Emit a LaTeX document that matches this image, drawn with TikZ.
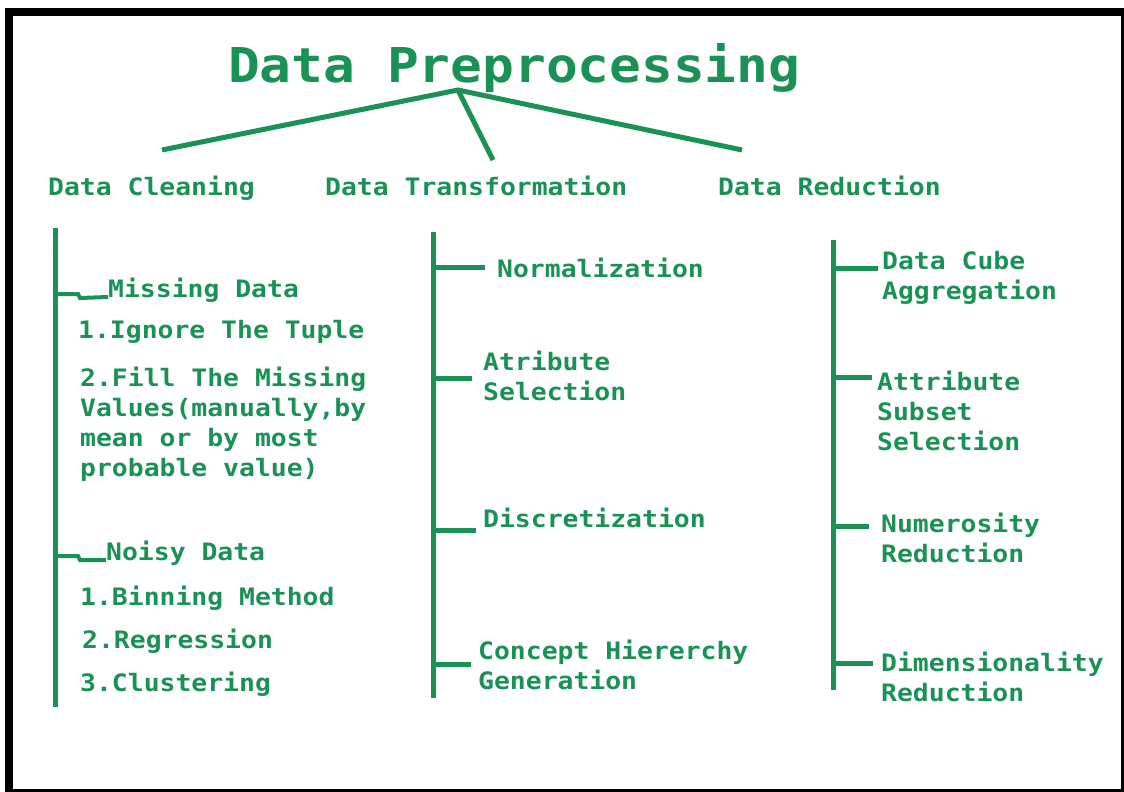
\documentclass[tikz,border=0pt]{standalone}
\usepackage{fontspec}
\newfontfamily\pixfont[FakeStretch=1.1]{DejaVu Sans Mono}
\newfontfamily\titlefont[FakeStretch=1.1]{DejaVu Sans Mono}
\definecolor{gr}{RGB}{26,145,85}
\begin{document}
\begin{tikzpicture}[x=1pt,y=-1pt,
  lbl/.style={anchor=base west, inner sep=0pt, text=gr, align=left,
    font=\pixfont\bfseries\fontsize{24}{30}\selectfont},
  lbll/.style={lbl},
  conn/.style={draw=gr, line width=5pt},
  tick/.style={draw=gr, line width=5pt}]
\useasboundingbox (0,0) rectangle (1124,792);
% frame
\fill[white] (0,0) rectangle (1124,792);
\fill[black] (5,8) rectangle (1124,792);
\fill[white] (13,16) rectangle (1121,789);
% title
\node[anchor=base west, inner sep=0pt, text=gr,
  font=\titlefont\bfseries\fontsize{48}{50}\selectfont] (title) at (228,82) {Data Preprocessing};
\coordinate (apex) at (458,90);
\coordinate (lend) at (162,150);
\coordinate (mend) at (493,160);
\coordinate (rend) at (742,150);
\draw[conn] (lend) -- (apex) -- (rend);
\draw[conn] (apex) -- (mend);
% headers
\node[lbl] (clean) at (48,195) {Data Cleaning};
\node[lbl] (trans) at (325,195) {Data Transformation};
\node[lbl] (red) at (718,195) {Data Reduction};
% left column
\coordinate (ltop) at (55,228);
\coordinate (lbot) at (55,707);
\draw[conn] (ltop) -- (lbot);
\node[lbl] (miss) at (108,297) {Missing Data};
\draw[tick, line width=4pt] (55,294) -- (78,294) -- (80,298) -- (miss.base west);
\node[lbl] (ign) at (78,338) {1.Ignore The Tuple};
\node[lbl] (fill) at (80,476) {2.Fill The Missing\\Values(manually,by\\mean or by most\\probable value)};
\node[lbl] (noisy) at (106,560) {Noisy Data};
\draw[tick, line width=4pt] (55,556) -- (78,556) -- (80,560) -- (noisy.base west);
\node[lbl] (bin) at (80,605) {1.Binning Method};
\node[lbl] (reg) at (82,648) {2.Regression};
\node[lbl] (clu) at (80,691) {3.Clustering};
% middle column
\coordinate (mtop) at (433,232);
\coordinate (mbot) at (433,698);
\draw[conn] (mtop) -- (mbot);
\node[lbll] (norm) at (497,277) {Normalization};
\coordinate (t1) at (485,267);
\draw[tick] (mtop |- t1) -- (t1);
\node[lbll] (atr) at (483,400) {Atribute\\Selection};
\coordinate (t2) at (472,378);
\draw[tick] (mtop |- t2) -- (t2);
\node[lbll] (disc) at (483,527) {Discretization};
\coordinate (t3) at (476,530);
\draw[tick] (mtop |- t3) -- (t3);
\node[lbll] (conc) at (478,689) {Concept Hiererchy\\Generation};
\coordinate (t4) at (471,664);
\draw[tick] (mtop |- t4) -- (t4);
% right column
\coordinate (rtop) at (833,240);
\coordinate (rbot) at (833,690);
\draw[conn] (rtop) -- (rbot);
\node[lbll] (cube) at (882,299) {Data Cube\\Aggregation};
\coordinate (u1) at (878,268);
\draw[tick] (rtop |- u1) -- (u1);
\node[lbll] (ass) at (877,450) {Attribute\\Subset\\Selection};
\coordinate (u2) at (872,377);
\draw[tick] (rtop |- u2) -- (u2);
\node[lbll] (num) at (881,562) {Numerosity\\Reduction};
\coordinate (u3) at (869,526);
\draw[tick] (rtop |- u3) -- (u3);
\node[lbll] (dim) at (881,701) {Dimensionality\\Reduction};
\coordinate (u4) at (873,663);
\draw[tick] (rtop |- u4) -- (u4);
\end{tikzpicture}
\end{document}
